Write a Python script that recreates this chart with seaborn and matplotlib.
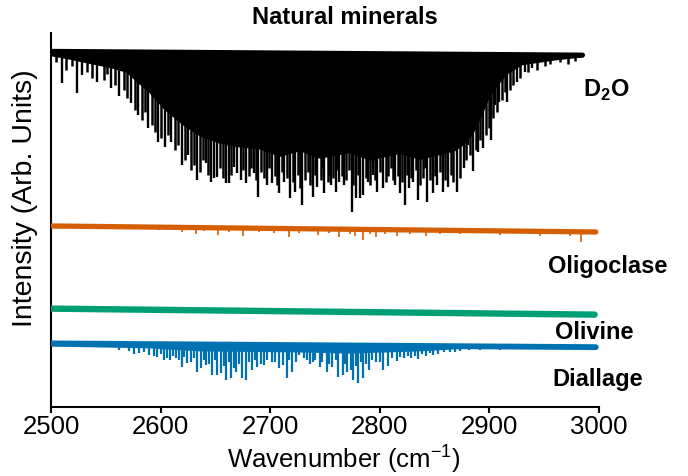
import numpy as np
import pandas as pd
import matplotlib
matplotlib.use("Agg")
import matplotlib.pyplot as plt
from matplotlib import font_manager
import seaborn as sns

# ---------------------------------------------------------------- data
# D2O vapour reference: baseline, dense absorption band floor, lines
d2o_base_wn = [2500, 2985]
d2o_base = [9.51, 9.41]

d2o_band_wn = [2500.0, 2516.5, 2537.5, 2553.0, 2568.6, 2575.9, 2589.6, 2603.3,
               2619.7, 2635.3, 2653.6, 2672.0, 2690.1, 2708.4, 2726.7, 2745.0,
               2772.4, 2790.7, 2818.1, 2836.4, 2854.6, 2868.3, 2875.7, 2884.8,
               2893.0, 2898.5, 2907.6, 2916.8, 2929.6, 2959.7, 2985.3]
d2o_band_floor = [9.39, 9.30, 9.17, 9.08, 8.95, 8.75, 8.40, 7.95,
                  7.55, 7.25, 7.05, 6.95, 6.90, 6.70, 6.85, 6.65,
                  6.80, 6.60, 6.78, 6.62, 6.75, 6.85, 7.00, 7.30,
                  7.80, 8.20, 8.62, 8.92, 9.15, 9.28, 9.36]

d2o_strong_wn = [2510.1, 2523.8, 2528.3, 2542.0, 2554.8, 2562.2, 2573.1, 2579.5,
                 2588.7, 2597.8, 2604.2, 2609.7, 2619.7, 2625.2, 2633.4, 2641.7,
                 2646.2, 2649.0, 2651.7, 2660.0, 2662.7, 2667.3, 2670.0, 2673.7,
                 2678.2, 2685.5, 2689.2, 2697.4, 2702.0, 2708.4, 2713.0, 2718.4,
                 2723.0, 2729.4, 2738.6, 2743.1, 2749.5, 2755.9, 2759.6, 2763.2,
                 2766.9, 2774.2, 2777.9, 2781.5, 2784.3, 2788.8, 2793.4, 2797.1,
                 2802.5, 2813.5, 2818.1, 2822.6, 2826.3, 2830.0, 2834.5, 2842.8,
                 2848.3, 2852.0, 2857.4, 2862.0, 2870.2, 2876.6, 2880.2, 2884.8,
                 2889.4, 2893.9, 2901.2, 2904.9, 2908.6, 2915.9, 2925.0, 2932.3,
                 2938.7]
d2o_strong_min = [8.66, 8.40, 8.88, 8.69, 8.53, 8.31, 8.13, 7.81,
                  7.46, 7.09, 6.95, 7.09, 6.47, 6.74, 6.07, 6.52,
                  6.02, 6.12, 6.15, 5.99, 5.99, 6.42, 6.26, 6.07,
                  5.99, 6.26, 5.61, 5.94, 5.99, 5.72, 6.02, 5.59,
                  5.75, 5.40, 5.61, 5.88, 5.72, 5.94, 5.75, 6.02,
                  5.94, 5.21, 5.59, 5.59, 5.67, 6.02, 6.20, 5.75,
                  5.86, 5.94, 5.72, 5.40, 5.86, 6.02, 5.53, 5.48,
                  5.72, 5.94, 5.75, 5.88, 5.75, 6.39, 7.01, 6.31,
                  6.82, 6.93, 7.14, 8.07, 8.16, 8.16, 8.69, 8.96,
                  9.06]

d2o_weak_wn = [2504.6, 2513.7, 2519.2, 2532.9, 2537.5, 2548.4, 2551.2, 2558.5,
               2566.7, 2569.5, 2576.8, 2583.2, 2585.9, 2592.3, 2595.1, 2600.5,
               2606.9, 2613.3, 2616.1, 2622.5, 2628.0, 2630.7, 2636.2, 2638.9,
               2643.5, 2654.5, 2657.2, 2664.5, 2675.5, 2681.0, 2682.8, 2687.4,
               2691.9, 2694.7, 2699.3, 2704.7, 2706.6, 2711.1, 2715.7, 2721.2,
               2725.8, 2727.6, 2732.2, 2734.9, 2736.7, 2741.3, 2745.9, 2747.7,
               2752.3, 2754.1, 2757.7, 2761.4, 2765.1, 2769.6, 2771.5, 2776.0,
               2779.7, 2787.0, 2790.7, 2795.2, 2799.8, 2805.3, 2807.1, 2809.8,
               2811.7, 2816.2, 2819.9, 2824.5, 2828.1, 2832.7, 2836.4, 2839.1,
               2840.9, 2845.5, 2850.1, 2854.6, 2859.2, 2864.7, 2866.5, 2872.9,
               2878.4, 2882.1, 2887.5, 2891.2, 2896.7, 2899.4, 2903.1, 2906.7,
               2911.3, 2914.0, 2918.6, 2921.4, 2927.8, 2935.1, 2943.3, 2950.6,
               2955.2, 2964.3, 2971.6, 2978.0]
d2o_weak_min = [9.22, 9.01, 9.12, 8.96, 8.80, 8.74, 8.90, 8.61,
                8.48, 8.26, 7.94, 7.67, 7.89, 7.54, 7.35, 7.19,
                7.27, 6.87, 7.01, 6.60, 6.34, 6.47, 6.28, 6.60,
                6.20, 6.39, 6.12, 6.20, 6.34, 6.18, 6.39, 6.07,
                6.28, 6.12, 6.39, 6.18, 5.94, 6.28, 6.12, 6.02,
                6.20, 5.86, 6.07, 6.28, 5.94, 6.20, 6.07, 6.39,
                6.02, 6.20, 6.12, 6.34, 6.18, 6.07, 6.34, 5.94,
                6.20, 6.12, 5.94, 6.07, 6.28, 6.02, 6.18, 6.39,
                6.07, 6.18, 6.02, 6.20, 6.12, 6.34, 5.94, 6.12,
                6.39, 6.07, 6.18, 6.28, 6.07, 6.20, 6.02, 6.12,
                6.60, 6.74, 6.87, 7.14, 7.27, 7.46, 7.73, 7.89,
                8.21, 8.42, 8.48, 8.61, 8.80, 8.96, 9.01, 9.12,
                9.17, 9.22, 9.17, 9.25]

# Oligoclase
oligo_wn = [2500, 2997]
oligo_level = [4.84, 4.68]
oligo_dip_wn = [2543.9, 2571.3, 2598.7, 2619.7, 2632.5, 2639.8, 2652.6, 2662.7,
                2675.5, 2690.1, 2703.8, 2717.5, 2726.7, 2744.0, 2754.1, 2763.2,
                2772.4, 2777.0, 2784.3, 2790.7, 2796.1, 2804.4, 2815.3, 2827.2,
                2841.8, 2854.6, 2872.9, 2909.5, 2946.0, 2973.5, 2983.5]
oligo_dip_min = [4.76, 4.76, 4.73, 4.69, 4.63, 4.71, 4.60, 4.68,
                 4.57, 4.68, 4.65, 4.55, 4.65, 4.60, 4.65, 4.55,
                 4.63, 4.57, 4.47, 4.63, 4.55, 4.63, 4.57, 4.63,
                 4.57, 4.63, 4.63, 4.60, 4.57, 4.57, 4.41]

# Olivine
olivine_wn = [2500, 2996]
olivine_level = [2.63, 2.47]

# Diallage
diallage_wn = [2500, 2997]
diallage_level = [1.70, 1.60]
diallage_band_wn = [2500.0, 2589.6, 2635.3, 2726.7, 2772.4, 2836.4, 2882.1,
                    2996.3]
diallage_band_floor = [1.63, 1.58, 1.50, 1.47, 1.44, 1.50, 1.58, 1.60]
diallage_strong_wn = [2562.2, 2580.4, 2589.6, 2596.9, 2603.3, 2608.8, 2614.3,
                      2619.7, 2624.3, 2633.4, 2637.1, 2641.7, 2647.2, 2651.7,
                      2655.4, 2660.0, 2664.5, 2669.1, 2674.6, 2678.2, 2683.7,
                      2688.3, 2694.7, 2702.0, 2708.4, 2715.7, 2720.3, 2726.7,
                      2734.0, 2738.6, 2745.0, 2751.4, 2756.8, 2762.3, 2766.0,
                      2770.5, 2773.3, 2776.0, 2779.7, 2784.3, 2789.7, 2796.1,
                      2802.5, 2807.1, 2815.3, 2821.7, 2828.1, 2834.5, 2841.8,
                      2848.3, 2858.3, 2868.3, 2881.1]
diallage_strong_min = [1.52, 1.44, 1.39, 1.34, 1.26, 1.26, 1.31,
                       1.07, 1.18, 0.94, 1.04, 1.12, 0.86, 0.86,
                       0.91, 0.72, 0.78, 0.94, 0.78, 0.72, 0.99,
                       1.07, 1.12, 1.20, 1.04, 0.78, 0.94, 1.39,
                       1.26, 1.20, 1.07, 0.94, 1.07, 0.80, 0.86,
                       0.94, 0.99, 0.72, 0.64, 0.78, 0.99, 1.20,
                       0.99, 1.10, 1.23, 1.31, 1.31, 1.28, 1.36,
                       1.39, 1.47, 1.47, 1.52]
diallage_weak_wn = [2571.3, 2575.9, 2585.0, 2594.1, 2600.5, 2606.0, 2611.5,
                    2617.0, 2621.6, 2628.0, 2630.7, 2639.8, 2644.4, 2649.9,
                    2658.1, 2662.7, 2667.3, 2671.8, 2681.0, 2686.5, 2691.9,
                    2697.4, 2704.7, 2712.0, 2717.5, 2723.9, 2731.2, 2736.7,
                    2741.3, 2747.7, 2754.1, 2759.6, 2767.8, 2777.9, 2782.4,
                    2787.0, 2792.5, 2799.8, 2810.8, 2818.1, 2825.4, 2831.8,
                    2838.2, 2845.5, 2852.8, 2863.8, 2872.9, 2891.2, 2909.5]
diallage_weak_min = [1.50, 1.42, 1.47, 1.36, 1.42, 1.31, 1.36,
                     1.26, 1.34, 1.20, 1.31, 1.26, 1.15, 1.26,
                     1.10, 1.20, 1.04, 1.15, 1.20, 1.26, 1.15,
                     1.26, 1.20, 1.12, 1.26, 1.20, 1.31, 1.15,
                     1.26, 1.20, 1.15, 1.26, 1.15, 1.10, 1.20,
                     1.15, 1.26, 1.20, 1.31, 1.34, 1.36, 1.36,
                     1.42, 1.44, 1.42, 1.47, 1.50, 1.52, 1.52]

sample_names = ["D$_\\mathbf{2}$O", "Oligoclase", "Olivine", "Diallage"]
name_wn = [2985.3, 2953.3, 2959.7, 2957.9]
name_y = [8.30, 3.57, 1.83, 0.55]

x_ticks = [2500, 2600, 2700, 2800, 2900, 3000]

# ---------------------------------------------------------------- style
sns.set_theme(style="ticks")
installed = {f.name for f in font_manager.fontManager.ttflist}
narrow = "Liberation Sans Narrow" in installed
axis_family = ["Liberation Sans Narrow", "Liberation Sans", "DejaVu Sans"] if narrow \
    else ["Liberation Sans", "DejaVu Sans"]
tick_size = 23 if narrow else 18.5
ylab_size = 26 if narrow else 20.5
plt.rcParams["font.family"] = ["Liberation Sans", "DejaVu Sans"]
plt.rcParams["mathtext.fontset"] = "custom"
plt.rcParams["mathtext.rm"] = "Liberation Sans"
plt.rcParams["mathtext.bf"] = "Liberation Sans:bold"
for key in ("text.color", "axes.labelcolor", "xtick.color", "ytick.color",
            "xtick.labelcolor", "axes.edgecolor"):
    plt.rcParams[key] = "black"

c_d2o = "black"
c_oligo = "#d55e00"
c_olivine = "#009e73"
c_diallage = "#0072b2"

fig = plt.figure(figsize=(6.88, 4.76), dpi=100)
ax = fig.add_axes([51 / 688, 69 / 476, 548 / 688, 374 / 476])


def draw_lines(wn, lo, base_wn, base, color, lw):
    """Absorption lines hanging down from a sloping baseline."""
    ax.vlines(wn, lo, np.interp(wn, base_wn, base), color=color,
              linewidth=lw, zorder=2)


# ---------------------------------------------------------------- D2O
ax.fill_between(d2o_band_wn, d2o_band_floor,
                np.interp(d2o_band_wn, d2o_base_wn, d2o_base),
                color=c_d2o, linewidth=0, zorder=2)
draw_lines(d2o_weak_wn, d2o_weak_min, d2o_base_wn, d2o_base, c_d2o, 1.8)
draw_lines(d2o_strong_wn, d2o_strong_min, d2o_base_wn, d2o_base, c_d2o, 1.7)
sns.lineplot(x=d2o_base_wn, y=d2o_base, color=c_d2o, linewidth=3.6, ax=ax,
             zorder=3)

# ---------------------------------------------------------------- Oligoclase
draw_lines(oligo_dip_wn, oligo_dip_min, oligo_wn, oligo_level, c_oligo, 1.2)
sns.lineplot(x=oligo_wn, y=oligo_level, color=c_oligo, linewidth=3.8, ax=ax,
             zorder=3)

# ---------------------------------------------------------------- Olivine
sns.lineplot(x=olivine_wn, y=olivine_level, color=c_olivine, linewidth=4.6,
             ax=ax, zorder=3)

# ---------------------------------------------------------------- Diallage
ax.fill_between(diallage_band_wn, diallage_band_floor,
                np.interp(diallage_band_wn, diallage_wn, diallage_level),
                color=c_diallage, linewidth=0, zorder=2)
draw_lines(diallage_weak_wn, diallage_weak_min, diallage_wn, diallage_level,
           c_diallage, 1.6)
draw_lines(diallage_strong_wn, diallage_strong_min, diallage_wn,
           diallage_level, c_diallage, 1.6)
sns.lineplot(x=diallage_wn, y=diallage_level, color=c_diallage, linewidth=4.2,
             ax=ax, zorder=3)

# ---------------------------------------------------------------- names
for name, wx, wy in zip(sample_names, name_wn, name_y):
    ax.text(wx, wy, name, ha="left", va="baseline", fontsize=17,
            fontweight="bold", color="black", clip_on=False)

# ---------------------------------------------------------------- axes
ax.set_xlim(2500, 3000)
ax.set_ylim(0, 10)
ax.set_xticks(x_ticks)
ax.set_xticklabels([str(t) for t in x_ticks], family=axis_family,
                   fontsize=tick_size)
ax.set_yticks([])
ax.tick_params(axis="x", direction="out", length=4.5, width=1.5, pad=1,
               color="black", labelcolor="black")
for side in ("top", "right"):
    ax.spines[side].set_visible(False)
for side in ("left", "bottom"):
    ax.spines[side].set_linewidth(1.5)
    ax.spines[side].set_color("black")
ax.set_facecolor("white")

ax.set_xlabel("Wavenumber (cm$^{-1}$)", family=axis_family,
              fontsize=tick_size, color="black")
ax.xaxis.set_label_coords(0.535, -0.095)
ax.set_ylabel("Intensity (Arb. Units)", family=axis_family,
              fontsize=ylab_size, color="black")
ax.yaxis.set_label_coords(-0.024, 0.559)

fig.text(345 / 688, 1 - 18 / 476, "Natural minerals", ha="center",
         va="center", fontsize=17, fontweight="bold", color="black")

fig.savefig("out.png", dpi=100, facecolor="white")
